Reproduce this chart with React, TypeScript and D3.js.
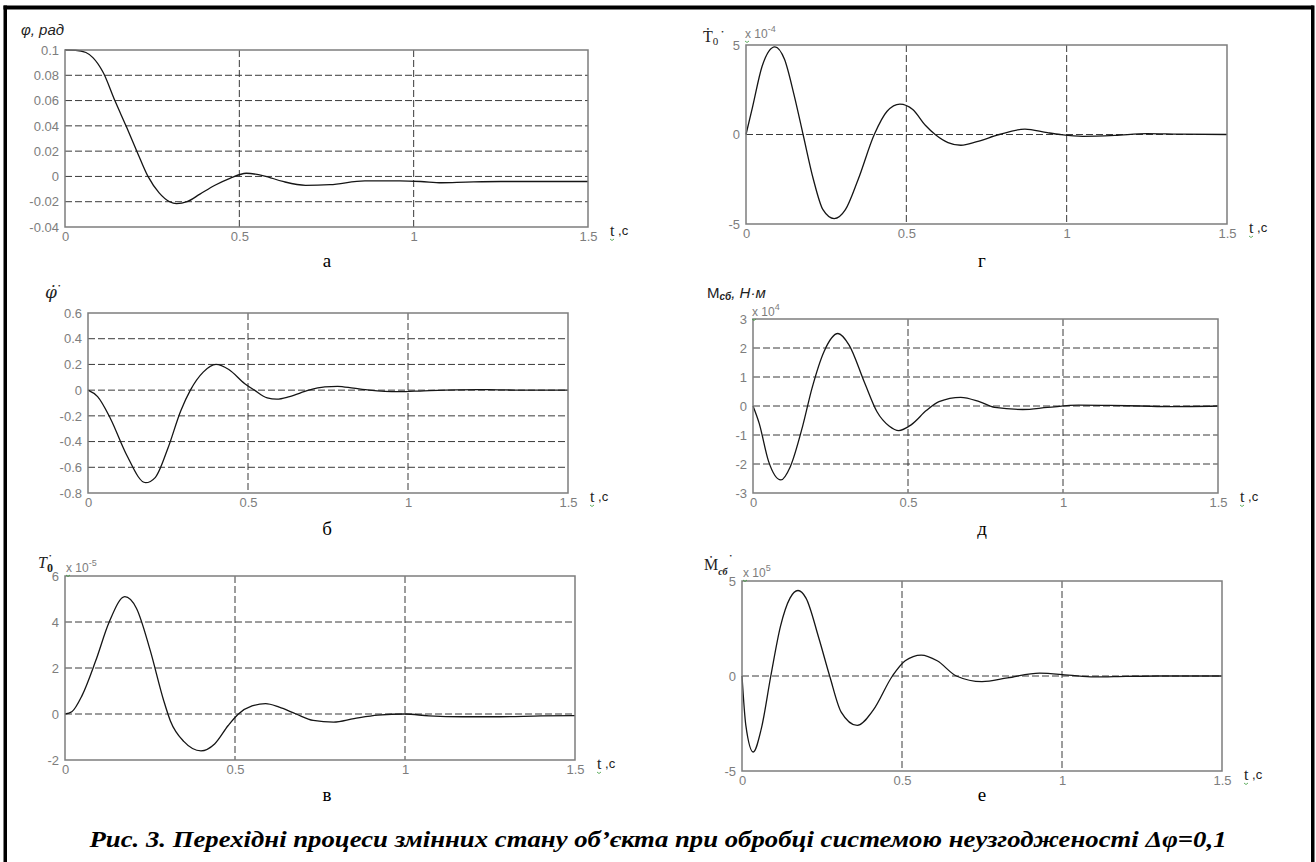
import React, { useEffect, useRef } from 'react';
import * as d3 from 'd3';

type Pt = [number, number];

// time axis, shared by all six panels
const timeDomain: [number, number] = [0, 1.5];
const timeTicks = [0, 0.5, 1, 1.5];

// а: φ, рад
const phiData: Pt[] = [
  [0, 0.1], [0.03, 0.0998], [0.06, 0.098], [0.08, 0.094], [0.11, 0.082], [0.143, 0.06],
  [0.175, 0.04], [0.206, 0.02], [0.238, 0], [0.27, -0.013], [0.3, -0.02], [0.32, -0.0215],
  [0.35, -0.02], [0.387, -0.014], [0.43, -0.007], [0.473, -0.0015], [0.52, 0.0025],
  [0.57, 0.0005], [0.625, -0.004], [0.69, -0.007], [0.76, -0.0065], [0.86, -0.0035],
  [0.96, -0.0035], [1.02, -0.004], [1.08, -0.005], [1.15, -0.0045], [1.25, -0.004], [1.5, -0.004],
];
const phiTicks = [-0.04, -0.02, 0, 0.02, 0.04, 0.06, 0.08, 0.1];

// б: φ'*
const phiDotData: Pt[] = [
  [0, 0], [0.03, -0.05], [0.07, -0.22], [0.12, -0.5], [0.18, -0.72], [0.21, -0.68],
  [0.25, -0.45], [0.29, -0.16], [0.32, 0], [0.36, 0.14], [0.4, 0.2], [0.44, 0.16],
  [0.49, 0.05], [0.52, 0], [0.56, -0.06], [0.59, -0.07], [0.63, -0.05], [0.69, 0],
  [0.74, 0.025], [0.78, 0.03], [0.83, 0.015], [0.88, 0], [0.97, -0.012], [1.05, -0.005],
  [1.15, 0.002], [1.25, 0.004], [1.35, 0], [1.5, 0],
];
const phiDotTicks = [-0.8, -0.6, -0.4, -0.2, 0, 0.2, 0.4, 0.6];

// в: T0*, x 10^-5
const t0Data: Pt[] = [
  [0, 0], [0.02, 0.1], [0.05, 0.8], [0.09, 2.3], [0.13, 4.0], [0.176, 5.1], [0.21, 4.6],
  [0.25, 2.8], [0.29, 0.6], [0.31, -0.3], [0.35, -1.2], [0.4, -1.6], [0.44, -1.3],
  [0.48, -0.5], [0.51, 0], [0.55, 0.35], [0.59, 0.45], [0.63, 0.3], [0.68, 0],
  [0.73, -0.28], [0.79, -0.35], [0.85, -0.2], [0.92, -0.05], [1.0, 0], [1.07, -0.08],
  [1.17, -0.12], [1.28, -0.12], [1.4, -0.08], [1.5, -0.07],
];
const t0Ticks = [-2, 0, 2, 4, 6];

// г: T0'*, x 10^-4
const t0DotData: Pt[] = [
  [0, 0], [0.02, 1.5], [0.05, 3.8], [0.09, 4.9], [0.12, 4.2], [0.15, 2.2], [0.178, 0],
  [0.21, -2.5], [0.24, -4.2], [0.275, -4.7], [0.31, -4.2], [0.35, -2.5], [0.4, 0],
  [0.44, 1.3], [0.48, 1.7], [0.52, 1.4], [0.56, 0.5], [0.59, 0], [0.63, -0.45],
  [0.67, -0.6], [0.72, -0.4], [0.79, 0], [0.87, 0.3], [0.94, 0.1], [0.98, 0],
  [1.05, -0.1], [1.15, -0.05], [1.25, 0.05], [1.35, 0.02], [1.5, 0],
];
const t0DotTicks = [-5, 0, 5];

// д: Mсб, Н·м, x 10^4
const momentData: Pt[] = [
  [0, 0], [0.02, -0.6], [0.05, -1.9], [0.09, -2.55], [0.12, -2.1], [0.16, -0.7],
  [0.19, 0.6], [0.23, 1.9], [0.274, 2.5], [0.31, 2.1], [0.36, 0.8], [0.4, -0.2],
  [0.44, -0.7], [0.47, -0.85], [0.51, -0.65], [0.56, -0.15], [0.6, 0.15], [0.67, 0.3],
  [0.73, 0.15], [0.78, -0.05], [0.87, -0.12], [0.95, -0.05], [1.05, 0.03], [1.15, 0.02],
  [1.25, 0], [1.35, -0.02], [1.5, 0],
];
const momentTicks = [-3, -2, -1, 0, 1, 2, 3];

// е: M'сб*, x 10^5
const momentDotData: Pt[] = [
  [0, 0], [0.012, -2.6], [0.035, -4.0], [0.06, -2.8], [0.09, 0], [0.12, 2.6], [0.15, 4.1],
  [0.175, 4.5], [0.2, 4.1], [0.24, 2.0], [0.274, 0], [0.31, -1.9], [0.36, -2.6],
  [0.41, -1.8], [0.47, 0], [0.51, 0.8], [0.56, 1.1], [0.61, 0.8], [0.67, 0],
  [0.75, -0.3], [0.83, -0.1], [0.93, 0.15], [1.02, 0.05], [1.1, -0.05], [1.2, -0.02],
  [1.3, 0], [1.5, 0],
];
const momentDotTicks = [-5, 0, 5];

const panelLetters = ['а', 'б', 'в', 'г', 'д', 'е'];
const caption = 'Рис. 3. Перехідні процеси змінних стану об’єкта при обробці системою неузгодженості Δφ=0,1';

const App = () => {
  const svgRef = useRef<SVGSVGElement>(null);

  useEffect(() => {
    const svg = d3.select(svgRef.current);
    svg.selectAll('*').remove();

    const panels = [
      { data: phiData, ticks: phiTicks, left: 65, right: 588, top: 50, bottom: 227 },
      { data: phiDotData, ticks: phiDotTicks, left: 88, right: 568, top: 313, bottom: 493 },
      { data: t0Data, ticks: t0Ticks, left: 65, right: 575, top: 576, bottom: 760 },
      { data: t0DotData, ticks: t0DotTicks, left: 746, right: 1227, top: 45, bottom: 224 },
      { data: momentData, ticks: momentTicks, left: 753, right: 1218, top: 319, bottom: 493 },
      { data: momentDotData, ticks: momentDotTicks, left: 742, right: 1222, top: 581, bottom: 771 },
    ];

    const gray = '#7d7d7d';
    const green = '#3a9a3a';
    const sans = 'Liberation Sans, Arial, sans-serif';
    const serif = 'Liberation Serif, Times New Roman, serif';

    panels.forEach((p, i) => {
      const x = d3.scaleLinear().domain(timeDomain).range([p.left, p.right]);
      const y = d3.scaleLinear().domain(d3.extent(p.ticks) as [number, number]).range([p.bottom, p.top]);
      const g = svg.append('g');

      // dashed grid
      g.selectAll('.hgrid')
        .data(p.ticks.slice(1, -1))
        .enter()
        .append('line')
        .attr('x1', p.left)
        .attr('x2', p.right)
        .attr('y1', (d) => y(d))
        .attr('y2', (d) => y(d))
        .attr('stroke', '#3a3a3a')
        .attr('stroke-dasharray', '7,3');
      g.selectAll('.vgrid')
        .data(timeTicks.slice(1, -1))
        .enter()
        .append('line')
        .attr('x1', (d) => x(d))
        .attr('x2', (d) => x(d))
        .attr('y1', p.top)
        .attr('y2', p.bottom)
        .attr('stroke', '#3a3a3a')
        .attr('stroke-dasharray', '7,3');

      // curve
      const line = d3
        .line<Pt>()
        .x((d) => x(d[0]))
        .y((d) => y(d[1]))
        .curve(d3.curveMonotoneX);
      g.append('path')
        .attr('d', line(p.data))
        .attr('fill', 'none')
        .attr('stroke', '#151515')
        .attr('stroke-width', 1.3);

      // frame
      g.append('rect')
        .attr('x', p.left)
        .attr('y', p.top)
        .attr('width', p.right - p.left)
        .attr('height', p.bottom - p.top)
        .attr('fill', 'none')
        .attr('stroke', gray)
        .attr('stroke-width', 1.5);

      // axes (labels only)
      const yAxis = g
        .append('g')
        .attr('transform', `translate(${p.left},0)`)
        .call(d3.axisLeft(y).tickValues(p.ticks).tickSize(0).tickPadding(6).tickFormat((d) => String(d)));
      const xAxis = g
        .append('g')
        .attr('transform', `translate(0,${p.bottom})`)
        .call(d3.axisBottom(x).tickValues(timeTicks).tickSize(0).tickPadding(5).tickFormat((d) => String(d)));
      [yAxis, xAxis].forEach((a) => {
        a.select('.domain').remove();
        a.selectAll('text')
          .attr('fill', gray)
          .style('font-family', sans)
          .style('font-size', '13px');
      });

      // "t ,c"
      const tl = g
        .append('text')
        .attr('x', p.right + 22)
        .attr('y', p.bottom + 9)
        .attr('fill', '#222');
      tl.append('tspan').style('font-family', serif).style('font-size', '16px').text('t');
      tl.append('tspan').style('font-family', sans).style('font-size', '13px').attr('dy', -1).text(' ,c');
      g.append('path')
        .attr('d', `M${p.right + 22},${p.bottom + 12} q2,3 4,0`)
        .attr('fill', 'none')
        .attr('stroke', green)
        .attr('stroke-width', 0.8);

      // panel letter
      g.append('text')
        .attr('x', i < 3 ? 327 : 982)
        .attr('y', [267, 535, 801][i % 3])
        .attr('text-anchor', 'middle')
        .style('font-family', serif)
        .style('font-size', '19px')
        .text(panelLetters[i]);
    });

    // "x 10^n" multipliers
    const multiplier = (px: number, py: number, exp: string) => {
      const t = svg
        .append('text')
        .attr('x', px)
        .attr('y', py)
        .attr('fill', gray)
        .style('font-family', sans)
        .style('font-size', '12px');
      t.append('tspan').text('x 10');
      t.append('tspan').attr('dy', -6).style('font-size', '9px').text(exp);
      svg
        .append('path')
        .attr('d', `M${px},${py + 3} q2,3 4,0`)
        .attr('fill', 'none')
        .attr('stroke', green)
        .attr('stroke-width', 0.8);
    };
    multiplier(66, 572, '-5');
    multiplier(745, 38, '-4');
    multiplier(752, 316, '4');
    multiplier(743, 577, '5');

    // y-axis titles, each one text with tspans
    type Part = { s: string; size: number; family?: string; italic?: boolean; bold?: boolean; dy?: number; dx?: number };
    const title = (px: number, py: number, parts: Part[]) => {
      const t = svg.append('text').attr('x', px).attr('y', py).attr('fill', '#222');
      parts.forEach((q) => {
        t.append('tspan')
          .attr('dy', q.dy || 0)
          .attr('dx', q.dx || 0)
          .style('font-family', q.family || serif)
          .style('font-size', `${q.size}px`)
          .style('font-style', q.italic ? 'italic' : 'normal')
          .style('font-weight', q.bold ? 'bold' : 'normal')
          .text(q.s);
      });
    };

    // а
    title(21, 35, [{ s: 'φ, рад', size: 15, family: sans, italic: true }]);
    // б
    title(45, 298, [
      { s: 'φ\u0307', size: 17, family: 'DejaVu Serif, serif', italic: true },
      { s: '•', size: 7, dy: -10, dx: 1 },
    ]);
    // в
    title(38, 568, [
      { s: 'T', size: 16, italic: true },
      { s: '0', size: 12, bold: true, dy: 4 },
      { s: '•', size: 7, dy: -14, dx: -4 },
    ]);
    // г
    title(703, 42, [
      { s: 'Ṫ', size: 16 },
      { s: '0', size: 11, dy: 3 },
      { s: '•', size: 7, dy: -11, dx: 3 },
    ]);
    // д
    title(707, 298, [
      { s: 'M', size: 15, family: sans },
      { s: 'сб', size: 10, family: sans, italic: true, bold: true, dy: 2 },
      { s: ', Н·м', size: 15, family: sans, italic: true, dy: -2 },
    ]);
    // е
    title(704, 570, [
      { s: 'Ṁ', size: 16 },
      { s: 'сб', size: 10, italic: true, bold: true, dy: 5 },
      { s: '•', size: 7, dy: -17, dx: 2 },
    ]);

    // caption
    svg
      .append('text')
      .attr('x', 658)
      .attr('y', 847)
      .attr('text-anchor', 'middle')
      .attr('textLength', 1137)
      .attr('lengthAdjust', 'spacingAndGlyphs')
      .style('font-family', serif)
      .style('font-size', '23px')
      .style('font-style', 'italic')
      .style('font-weight', 'bold')
      .text(caption);

    // outer frame
    svg.append('rect').attr('x', 3.5).attr('y', 5.5).attr('width', 1310).attr('height', 4).attr('fill', '#000');
    svg.append('rect').attr('x', 3.5).attr('y', 5.5).attr('width', 3.5).attr('height', 857).attr('fill', '#000');
    svg.append('rect').attr('x', 1311).attr('y', 5.5).attr('width', 3.5).attr('height', 857).attr('fill', '#000');
  }, []);

  return (
    <svg
      ref={svgRef}
      width={1316}
      height={862}
      style={{ position: 'absolute', left: 0, top: 0, background: '#fff' }}
    ></svg>
  );
};

export default App;
